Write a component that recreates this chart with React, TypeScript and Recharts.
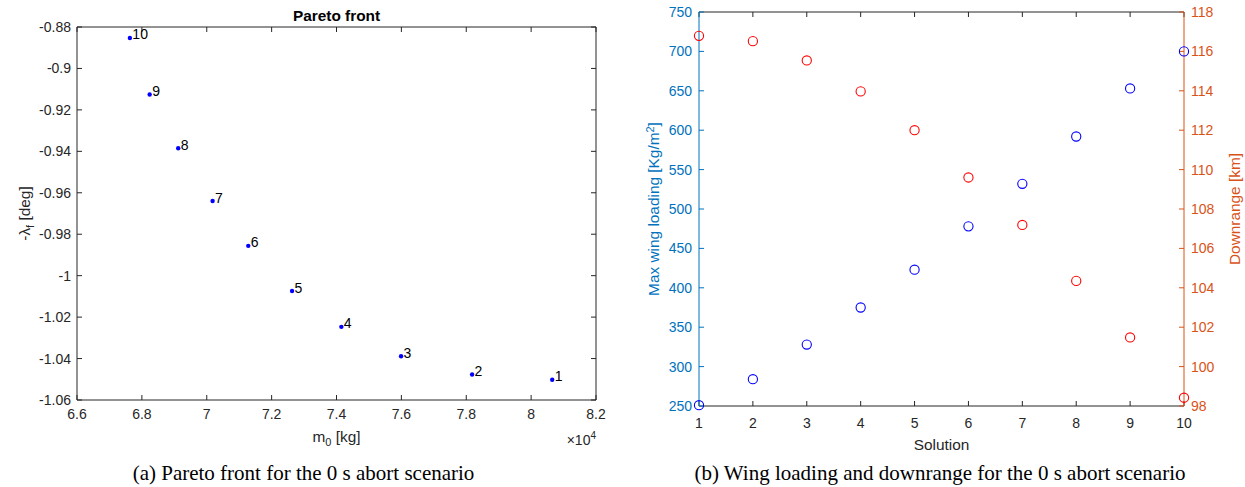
import React from 'react';
import { ScatterChart, Scatter, XAxis, YAxis, Label } from 'recharts';

// (a) Pareto front: one point per solution
const solutionIds = ['1', '2', '3', '4', '5', '6', '7', '8', '9', '10'];
const initialMassE4 = [8.065, 7.818, 7.599, 7.415, 7.263, 7.128, 7.018, 6.912, 6.824, 6.763];
const negFinalLongitude = [-1.0502, -1.0477, -1.0389, -1.0247, -1.0074, -0.9856, -0.964, -0.9385, -0.9126, -0.8853];

// (b) wing loading and downrange per solution
const solutionNumbers = [1, 2, 3, 4, 5, 6, 7, 8, 9, 10];
const maxWingLoading = [251, 284, 328, 375, 423, 478, 532, 592, 653, 700];
const downrangeKm = [116.79, 116.52, 115.54, 113.97, 112.0, 109.6, 107.19, 104.35, 101.48, 98.42];

const massTicks = [6.6, 6.8, 7, 7.2, 7.4, 7.6, 7.8, 8, 8.2];
const lambdaTicks = [-1.06, -1.04, -1.02, -1, -0.98, -0.96, -0.94, -0.92, -0.9, -0.88];
const solutionTicks = [1, 2, 3, 4, 5, 6, 7, 8, 9, 10];
const wingTicks = [250, 300, 350, 400, 450, 500, 550, 600, 650, 700, 750];
const rangeTicks = [98, 100, 102, 104, 106, 108, 110, 112, 114, 116, 118];

const SANS = '"Liberation Sans", Arial, Helvetica, sans-serif';
const SERIF = '"Liberation Serif", "Times New Roman", serif';
const GRAY = '#262626';
const AX_BLUE = '#0072BD';
const AX_ORANGE = '#D95319';

const paretoData = solutionIds.map((id, i) => ({ id, m: initialMassE4[i], lam: negFinalLongitude[i] }));
const wingData = solutionNumbers.map((s, i) => ({ s, v: maxWingLoading[i] }));
const rangeData = solutionNumbers.map((s, i) => ({ s, v: downrangeKm[i] }));

const fmt = (v: number) => String(Number(v.toFixed(2)));
const noTick = () => <g />;
const hidden = () => <g />;
const tickFont = (fill: string) => ({ fill, fontSize: 14, fontFamily: SANS });

const ParetoDot = (p: any) => (
  <g>
    <circle cx={p.cx} cy={p.cy} r={2.2} fill="#0000ff" />
    <text x={p.cx + 2.5} y={p.cy + 1.5} fontSize={14} fontFamily={SANS} fill="#000">
      {p.payload.id}
    </text>
  </g>
);

const ring = (color: string) => (p: any) => (
  <circle cx={p.cx} cy={p.cy} r={4.6} fill="none" stroke={color} strokeWidth={1.1} />
);

const vText = (x: number, y: number, fill: string, children: React.ReactNode) => (
  <text x={x} y={y} transform={`rotate(-90 ${x} ${y})`} textAnchor="middle" fontSize={15.4} fontFamily={SANS} fill={fill}>
    {children}
  </text>
);

function ParetoChart() {
  return (
    <ScatterChart width={620} height={487} margin={{ top: 26, right: 23, bottom: 47, left: 17 }}>
      <XAxis type="number" dataKey="m" domain={[6.6, 8.2]} ticks={massTicks} interval={0} tickFormatter={fmt}
        height={40} tickSize={-5} tickMargin={14} stroke={GRAY} tick={tickFont(GRAY)}>
        <Label content={() => (
          <g>
            <text x={336.5} y={442} textAnchor="middle" fontSize={15.4} fontFamily={SANS} fill={GRAY}>
              m<tspan dy={4} fontSize={11}>0</tspan><tspan dy={-4}> [kg]</tspan>
            </text>
            <text x={596} y={445} textAnchor="end" fontSize={14} fontFamily={SANS} fill={GRAY}>
              ×10<tspan dy={-6} fontSize={10}>4</tspan>
            </text>
          </g>
        )} />
      </XAxis>
      <XAxis xAxisId="top" orientation="top" type="number" dataKey="m" domain={[6.6, 8.2]} ticks={massTicks} interval={0}
        height={1} tickSize={-5} tick={noTick} stroke={GRAY}>
        <Label content={() => (
          <text x={336.5} y={21} textAnchor="middle" fontSize={15.4} fontWeight="bold" fontFamily={SANS} fill="#000">
            Pareto front
          </text>
        )} />
      </XAxis>
      <YAxis type="number" dataKey="lam" domain={[-1.06, -0.88]} ticks={lambdaTicks} interval={0} tickFormatter={fmt}
        width={60} tickSize={-5} tickMargin={11} stroke={GRAY} tick={tickFont(GRAY)}>
        <Label content={() => vText(29.5, 213.5, GRAY, (
          <>-λ<tspan dy={4} fontSize={11}>f</tspan><tspan dy={-4}> [deg]</tspan></>
        ))} />
      </YAxis>
      <YAxis yAxisId="r" orientation="right" type="number" dataKey="lam" domain={[-1.06, -0.88]} ticks={lambdaTicks} interval={0}
        width={1} tickSize={-5} tick={noTick} stroke={GRAY} />
      {/* invisible series so the mirrored box axes get drawn */}
      <Scatter data={paretoData} xAxisId="top" yAxisId="r" shape={hidden} isAnimationActive={false} />
      <Scatter data={paretoData} shape={ParetoDot} isAnimationActive={false} />
    </ScatterChart>
  );
}

function WingChart() {
  return (
    <ScatterChart width={625} height={487} margin={{ top: 11, right: 11, bottom: 41, left: 19 }}>
      <XAxis type="number" dataKey="s" domain={[1, 10]} ticks={solutionTicks} interval={0}
        height={40} tickSize={-5} tickMargin={17} stroke={GRAY} tick={tickFont(GRAY)}>
        <Label content={() => (
          <text x={321.5} y={450} textAnchor="middle" fontSize={15.4} fontFamily={SANS} fill={GRAY}>Solution</text>
        )} />
      </XAxis>
      <XAxis xAxisId="top" orientation="top" type="number" dataKey="s" domain={[1, 10]} ticks={solutionTicks} interval={0}
        height={1} tickSize={-5} tick={noTick} stroke={GRAY} />
      <YAxis yAxisId="wl" type="number" dataKey="v" domain={[250, 750]} ticks={wingTicks} interval={0}
        width={60} tickSize={-5} tickMargin={12} stroke={AX_BLUE} tick={tickFont(AX_BLUE)}>
        <Label content={() => vText(38.5, 209, AX_BLUE, (
          <>Max wing loading [Kg/m<tspan dy={-5} fontSize={11}>2</tspan><tspan dy={5}>]</tspan></>
        ))} />
      </YAxis>
      <YAxis yAxisId="dr" orientation="right" type="number" dataKey="v" domain={[98, 118]} ticks={rangeTicks} interval={0}
        width={50} tickSize={-5} tickMargin={12} stroke={AX_ORANGE} tick={tickFont(AX_ORANGE)}>
        <Label content={() => vText(619.5, 209, AX_ORANGE, 'Downrange [km]')} />
      </YAxis>
      <Scatter data={wingData} xAxisId="top" yAxisId="wl" shape={hidden} isAnimationActive={false} />
      <Scatter data={wingData} yAxisId="wl" shape={ring('#0000ff')} isAnimationActive={false} />
      <Scatter data={rangeData} yAxisId="dr" shape={ring('#ff0000')} isAnimationActive={false} />
    </ScatterChart>
  );
}

const captionStyle: React.CSSProperties = {
  position: 'absolute',
  top: 463,
  fontFamily: SERIF,
  fontSize: 21,
  lineHeight: '21px',
  whiteSpace: 'nowrap',
  transform: 'translateX(-50%)',
  color: '#000',
};

export default function App() {
  return (
    <div style={{ position: 'absolute', left: 0, top: 0, width: 1245, height: 487, background: '#fff' }}>
      <div style={{ position: 'absolute', left: 0, top: 0 }}>
        <ParetoChart />
      </div>
      <div style={{ position: 'absolute', left: 620, top: 0 }}>
        <WingChart />
      </div>
      <div style={{ ...captionStyle, left: 303.5 }}>(a) Pareto front for the 0 s abort scenario</div>
      <div style={{ ...captionStyle, left: 940 }}>(b) Wing loading and downrange for the 0 s abort scenario</div>
    </div>
  );
}
